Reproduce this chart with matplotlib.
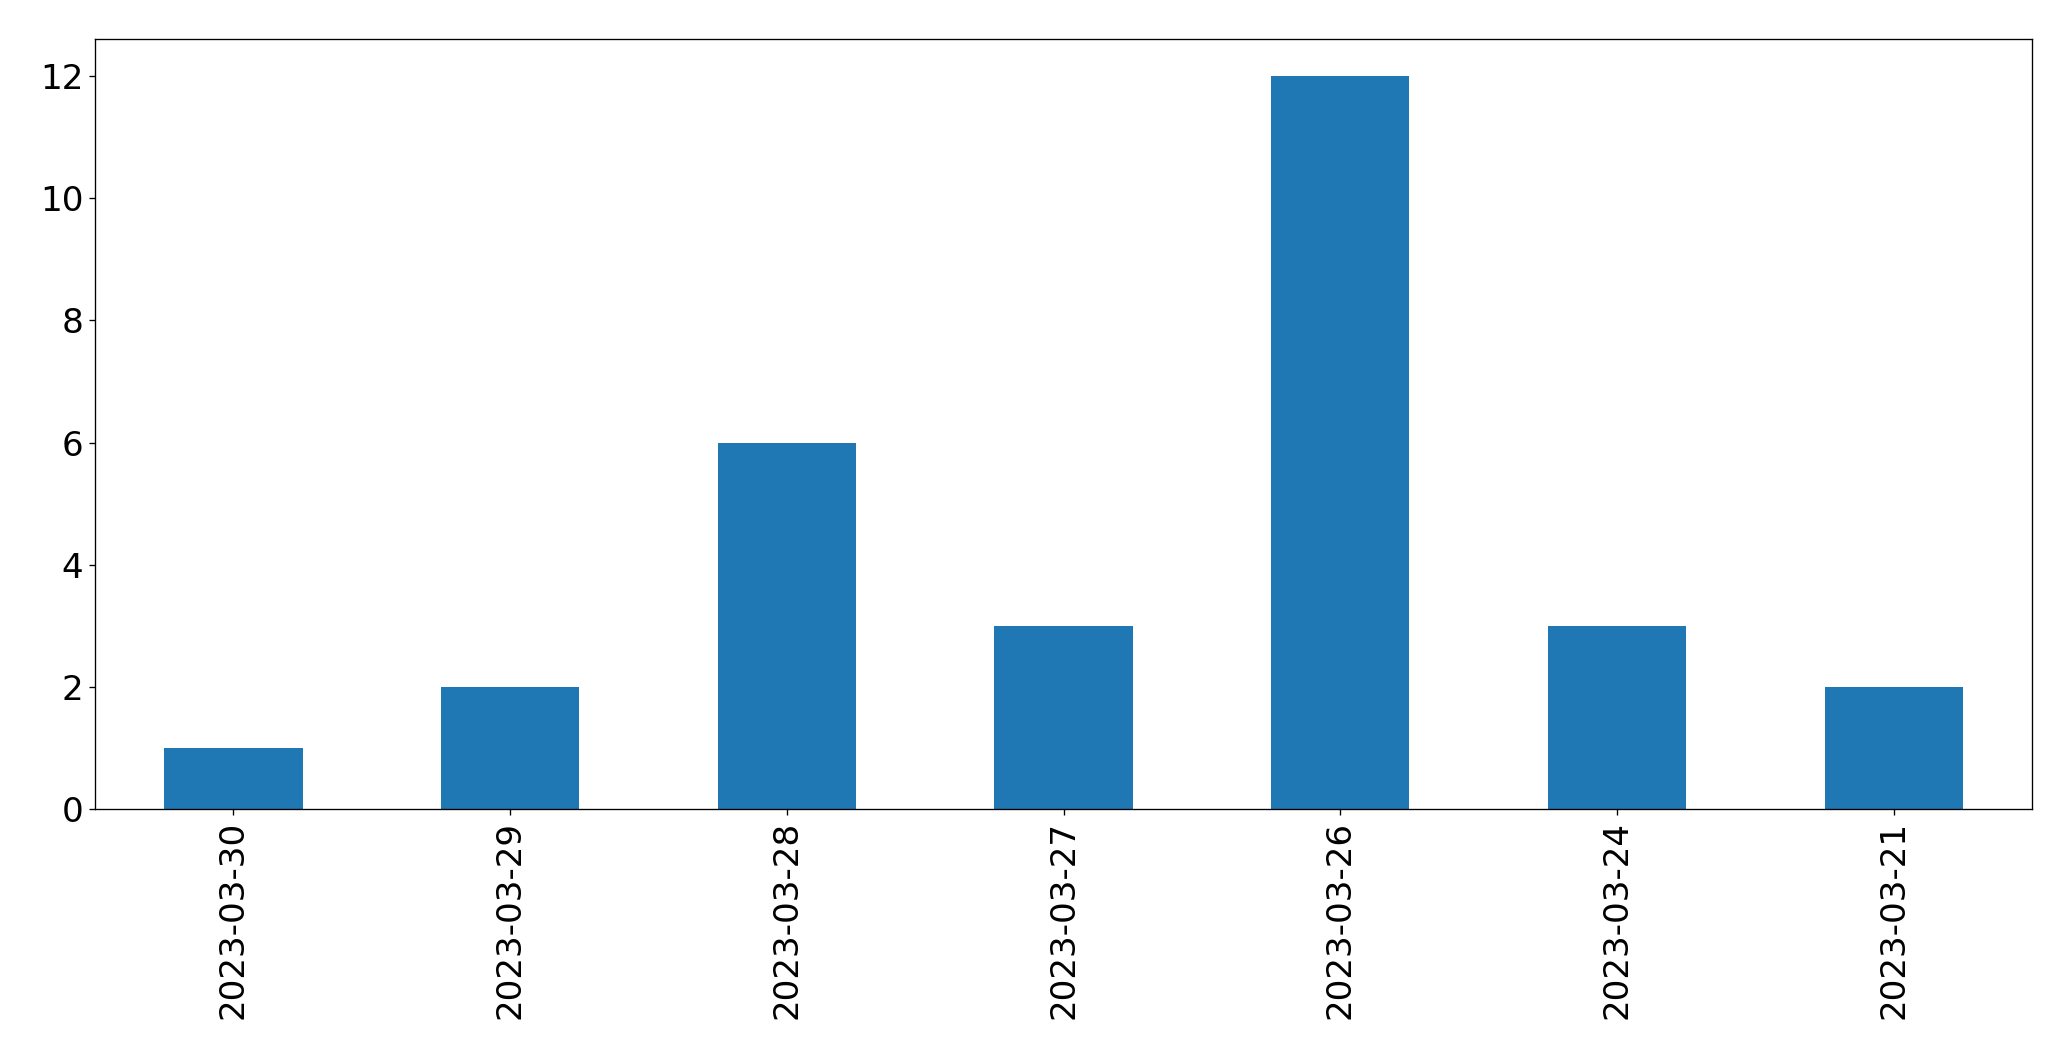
import matplotlib
matplotlib.use("Agg")
import matplotlib.pyplot as plt

dates = ["2023-03-30", "2023-03-29", "2023-03-28", "2023-03-27",
         "2023-03-26", "2023-03-24", "2023-03-21"]
counts = [1, 2, 6, 3, 12, 3, 2]

dpi = 120
fig, ax = plt.subplots(figsize=(2071 / dpi, 1061 / dpi), dpi=dpi)
fig.subplots_adjust(left=0.0459, right=0.9812, top=0.963, bottom=0.2372)

pos = list(range(len(dates)))
ax.bar(pos, counts, width=0.5, color="#1f77b4")
ax.set_xlim(-0.5, len(dates) - 0.5)
ax.set_xticks(pos)
ax.set_xticklabels(dates, rotation=90)
ax.tick_params(labelsize=20.5)

fig.savefig("out.png", dpi=dpi)
